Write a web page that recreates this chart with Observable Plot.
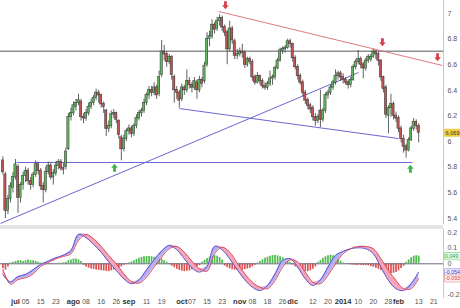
<!DOCTYPE html>
<html><head><meta charset="utf-8">
<script src="https://cdn.jsdelivr.net/npm/d3@7"></script>
<script src="https://cdn.jsdelivr.net/npm/@observablehq/plot@0.6"></script>
<style>
body{margin:0;background:#fff;font-family:"Liberation Sans",Arial,sans-serif}
#wrap{position:relative;width:460px;height:308px;overflow:hidden;background:#fff}
#wrap svg{position:absolute;left:0;overflow:visible}
#sep{position:absolute;left:0;top:225px;width:443px;height:4px;background:#e4e4e4}
</style></head><body><div id="wrap"><div id="sep"></div></div><script>
// ---- daily candles (trading-day index 0 = 24 jun 2013 ... 165 = 13 feb 2014) ----
const opens = [5.85,5.74,5.46,5.55,5.64,5.72,5.80,5.56,5.66,5.73,
5.77,5.69,5.66,5.74,5.82,5.77,5.65,5.62,5.76,5.81,
5.72,5.75,5.81,5.84,5.79,5.80,5.94,6.19,6.22,
6.27,6.30,6.31,6.19,6.18,6.22,6.27,6.30,6.34,6.38,
6.36,6.29,6.24,6.10,6.12,6.21,6.22,6.16,6.03,5.94,
6.02,6.08,6.10,6.06,6.12,6.18,6.22,6.24,6.30,6.36,
6.40,6.38,6.42,6.37,6.52,6.70,6.68,6.62,6.66,6.50,
6.40,6.38,6.33,6.42,6.40,6.47,6.44,6.42,6.46,6.40,
6.48,6.47,6.60,6.80,6.82,6.91,6.88,6.94,6.96,
6.89,6.85,6.72,6.88,6.78,6.67,6.68,6.70,6.69,6.60,
6.64,6.62,6.50,6.46,6.51,6.47,6.43,6.42,6.45,6.49,
6.50,6.57,6.63,6.71,6.72,6.73,6.78,6.76,6.65,6.58,
6.51,6.46,6.38,6.32,6.28,6.26,6.19,6.16,6.24,6.17,
6.24,6.36,6.38,6.42,6.46,6.51,6.53,6.50,6.48,6.46,
6.44,6.48,6.58,6.62,6.64,6.60,6.57,6.63,
6.64,6.66,6.70,6.68,6.63,6.50,6.42,6.20,6.26,6.29,
6.20,6.18,6.10,6.02,5.96,5.93,6.01,6.10,6.15,6.12];
const highs = [5.88,5.76,5.58,5.68,5.76,5.86,5.82,5.68,5.76,5.80,
5.79,5.72,5.76,5.85,5.84,5.79,5.68,5.80,5.84,5.83,
5.78,5.84,5.86,5.86,5.83,5.95,6.22,6.26,6.31,
6.33,6.37,6.33,6.22,6.25,6.30,6.33,6.36,6.41,6.40,
6.37,6.31,6.25,6.16,6.24,6.25,6.23,6.17,6.05,6.05,
6.10,6.13,6.12,6.14,6.21,6.24,6.26,6.33,6.38,6.43,
6.43,6.46,6.44,6.55,6.79,6.75,6.70,6.68,6.67,6.52,
6.43,6.40,6.45,6.44,6.56,6.50,6.46,6.50,6.48,6.51,
6.50,6.62,6.85,6.86,6.95,6.93,6.97,6.99,6.98,
6.91,6.87,6.94,6.90,6.80,6.72,6.73,6.76,6.71,6.66,
6.66,6.64,6.52,6.54,6.52,6.49,6.46,6.47,6.55,6.52,
6.59,6.65,6.73,6.74,6.75,6.80,6.80,6.77,6.67,6.60,
6.53,6.48,6.40,6.34,6.30,6.28,6.22,6.21,6.40,6.26,
6.38,6.40,6.44,6.48,6.56,6.55,6.55,6.53,6.50,6.48,
6.50,6.60,6.64,6.71,6.66,6.62,6.65,6.68,
6.68,6.72,6.71,6.70,6.64,6.51,6.44,6.28,6.37,6.31,
6.23,6.20,6.12,6.05,5.98,6.03,6.12,6.18,6.17,6.14];
const lows = [5.74,5.40,5.43,5.52,5.60,5.70,5.44,5.52,5.62,5.68,
5.66,5.62,5.64,5.72,5.74,5.62,5.52,5.60,5.74,5.70,
5.66,5.73,5.78,5.77,5.74,5.78,5.93,6.16,6.20,
6.24,6.28,6.16,6.14,6.16,6.20,6.25,6.28,6.32,6.30,
6.26,6.22,6.04,6.07,6.10,6.18,6.14,6.02,5.85,5.92,
6.00,6.05,6.03,6.04,6.10,6.16,6.19,6.22,6.28,6.33,
6.35,6.36,6.33,6.35,6.50,6.63,6.58,6.60,6.48,6.30,
6.33,6.26,6.31,6.36,6.38,6.41,6.38,6.40,6.33,6.38,
6.42,6.45,6.58,6.74,6.80,6.84,6.86,6.90,6.86,
6.82,6.60,6.70,6.76,6.64,6.64,6.66,6.65,6.57,6.58,
6.60,6.47,6.44,6.45,6.44,6.41,6.40,6.40,6.43,6.44,
6.48,6.56,6.62,6.68,6.69,6.72,6.73,6.62,6.56,6.48,
6.44,6.35,6.29,6.25,6.22,6.16,6.12,6.14,6.11,6.15,
6.22,6.33,6.36,6.40,6.44,6.48,6.47,6.45,6.44,6.41,
6.42,6.47,6.56,6.60,6.57,6.49,6.55,6.61,
6.62,6.65,6.64,6.59,6.47,6.38,6.18,6.06,6.19,6.17,
6.15,6.07,5.99,5.91,5.87,5.92,6.00,6.08,6.09,5.99];
const closes = [5.76,5.46,5.55,5.65,5.72,5.82,5.56,5.66,5.73,5.77,
5.69,5.66,5.74,5.82,5.77,5.65,5.62,5.76,5.81,5.72,
5.75,5.81,5.84,5.79,5.78,5.92,6.19,6.22,6.28,
6.30,6.32,6.19,6.18,6.22,6.27,6.30,6.34,6.38,6.36,
6.29,6.27,6.10,6.12,6.21,6.22,6.17,6.05,5.94,6.02,
6.08,6.10,6.06,6.12,6.18,6.22,6.24,6.30,6.36,6.40,
6.38,6.42,6.36,6.50,6.70,6.68,6.62,6.66,6.52,6.40,
6.38,6.32,6.42,6.40,6.47,6.44,6.42,6.47,6.40,6.48,
6.45,6.59,6.80,6.82,6.91,6.87,6.94,6.96,6.89,
6.85,6.72,6.88,6.79,6.67,6.68,6.70,6.69,6.60,6.64,
6.62,6.50,6.46,6.51,6.47,6.43,6.42,6.45,6.49,6.50,
6.57,6.63,6.71,6.72,6.73,6.78,6.76,6.65,6.58,6.51,
6.46,6.38,6.32,6.28,6.25,6.19,6.16,6.19,6.17,6.24,
6.36,6.38,6.42,6.46,6.51,6.53,6.50,6.48,6.46,6.44,
6.48,6.58,6.62,6.64,6.60,6.57,6.63,6.66,
6.66,6.70,6.68,6.63,6.50,6.41,6.21,6.26,6.29,6.20,
6.18,6.10,6.02,5.96,5.93,6.01,6.10,6.15,6.12,6.069];

// ---- oscillator panel ----
const histogram = [-0.03,-0.04,-0.02,
0.005,0.01,0.015,0.02,0.02,0.015,0.02,0.025,0.02,0.02,0.015,
0.01,0.005,0.003,
0.004,0.003,0.002,-0.002,0.002,0.003,0.004,0.006,0.01,
0.02,0.025,0.03,0.03,0.025,0.015,
-0.01,-0.02,-0.028,-0.033,-0.036,-0.04,-0.042,-0.044,-0.046,-0.048,-0.05,-0.045,-0.04,-0.035,-0.03,-0.02,-0.01,
-0.003,
0.005,0.012,0.02,0.028,0.035,0.04,0.045,0.047,0.047,0.045,0.042,0.04,0.036,0.03,0.02,0.01,
-0.005,-0.015,-0.025,-0.035,-0.042,-0.047,-0.05,-0.048,-0.045,-0.038,-0.03,-0.02,-0.01,
0.01,0.022,0.033,0.042,0.05,0.052,0.048,0.04,0.025,
-0.015,-0.025,-0.032,-0.038,-0.04,-0.042,-0.042,-0.04,-0.037,-0.033,-0.028,-0.02,-0.01,
0.005,0.015,0.025,0.035,0.042,0.048,0.052,0.053,0.05,0.045,0.038,0.028,0.018,0.008,
-0.008,-0.02,-0.03,-0.038,-0.045,-0.05,-0.05,-0.045,-0.035,-0.02,
0.01,0.022,0.035,0.045,0.052,0.055,0.052,0.045,0.032,0.018,
0.005,-0.002,-0.005,-0.007,-0.008,-0.01,-0.01,-0.01,-0.012,-0.012,-0.013,-0.018,-0.022,
-0.028,-0.035,-0.042,-0.05,-0.056,-0.06,-0.062,-0.06,-0.055,-0.045,-0.03,-0.015,
0.01,0.025,0.038,0.048,0.052,0.049];
// oscillator lines, read every 3rd trading day (index 0, 3, 6 ... 165)
const fastLine = [-0.07,-0.115,-0.081,-0.068,-0.038,-0.004,0.017,0.038,0.055,0.085,
0.187,0.166,0.123,0.074,0.011,-0.042,-0.096,-0.127,-0.102,-0.038,
0.025,0.081,0.117,0.089,0.032,-0.025,-0.053,-0.017,0.110,0.089,
0.032,-0.038,-0.102,-0.149,-0.170,-0.138,-0.064,0.021,0.032,-0.021,
-0.096,-0.138,-0.102,-0.021,0.053,0.079,0.096,0.102,0.096,0.064,
-0.021,-0.106,-0.159,-0.170,-0.127,-0.054];
const slowLine = [-0.035,-0.13,-0.10,-0.089,-0.064,-0.017,0.008,0.032,0.047,0.064,
0.149,0.187,0.159,0.110,0.053,0.0,-0.064,-0.113,-0.123,-0.085,
-0.021,0.042,0.096,0.110,0.074,0.017,-0.032,-0.047,0.064,0.106,
0.074,0.004,-0.064,-0.117,-0.149,-0.159,-0.106,-0.021,0.025,0.011,
-0.053,-0.117,-0.127,-0.074,0.0,0.064,0.096,0.110,0.110,0.096,
0.032,-0.042,-0.106,-0.159,-0.159,-0.093];
const oscValueLabels = ["0,049","-0,054","-0,093"];
const oscValues = [0.049,-0.054,-0.093];

// ---- axes ----
const priceTicks = [5.4,5.6,5.8,6,6.2,6.4,6.6,6.8,7];
const oscTicks = [-0.2,0,0.1,0.2];
const tickIdx =    [5,9,15,21,28,33,39,45,50,57,63,71,75,81,87,94,99,105,111,115,123,129,135,141,147,153,157,165,171];
const tickLabels = ["jul","05","15","23","ago","08","16","26","sep","11","19","oct","07","15","23","nov","08","18","26","dic","12","20","2014","10","20","28","feb","13","21"];
const tickIsMajor = [1,0,0,0,1,0,0,0,1,0,0,1,0,0,0,1,0,0,0,1,0,0,1,0,0,0,1,0,0];

// ---- drawn analysis lines and signals ----
const resistanceLevel = 6.706;
const trendFrom = [[85.6,7.016],[-0.95,5.361],[70.1,6.258],[5.4,5.837]];
const trendTo   = [[174.4,6.594],[141.1,6.539],[156.9,6.024],[162.5,5.837]];
const trendKind = ["bear","bull","bull","bull"];
const sellIdx = [88.3,150.6,172.5], sellPrice = [7.062,6.774,6.657];
const buyIdx = [44.3,161.7], buyPrice = [5.798,5.79];

// ---------------------------------------------------------------
const GREEN = "#5cb85c", RED = "#c05454";
const candles = closes.map((c,j)=>({j, o:opens[j], h:highs[j], l:lows[j], c}));
const hist = histogram.map((v,j)=>({j, v}));
const osc = fastLine.map((b,m)=>({j:3*m, b, r:slowLine[m]}));
const trends = trendKind.map((k,i)=>({k, x1:trendFrom[i][0], y1:trendFrom[i][1], x2:trendTo[i][0], y2:trendTo[i][1]}));
const ticks = tickLabels.map((t,i)=>({j:tickIdx[i], t, major:!!tickIsMajor[i]}));
const lastClose = closes[closes.length-1];

const xDomain = [-0.952, 174.84];
const font = '"Liberation Sans", Arial, sans-serif';

const downArrow = {draw(ctx){ctx.moveTo(-1.4,-4.2);ctx.lineTo(1.4,-4.2);ctx.lineTo(1.4,-0.3);ctx.lineTo(3.3,-0.3);ctx.lineTo(0,3.8);ctx.lineTo(-3.3,-0.3);ctx.lineTo(-1.4,-0.3);ctx.closePath();}};
const upArrow = {draw(ctx){ctx.moveTo(-1.4,4.2);ctx.lineTo(1.4,4.2);ctx.lineTo(1.4,0.3);ctx.lineTo(3.3,0.3);ctx.lineTo(0,-3.8);ctx.lineTo(-3.3,0.3);ctx.lineTo(-1.4,0.3);ctx.closePath();}};
const tagBox = {draw(ctx){ctx.rect(0,-3.6,20,7.2);}};

const main = Plot.plot({
  width:460, height:224, marginLeft:0, marginRight:17, marginTop:0, marginBottom:0,
  style:{background:"transparent", fontFamily:font, fontSize:"7px", color:"#555"},
  x:{domain:xDomain, axis:null},
  y:{domain:[5.3528,7.1015], axis:"right", ticks:priceTicks, tickSize:0, tickPadding:4,
     tickFormat:d=>String(+d.toFixed(1)), label:null},
  marks:[
    Plot.ruleX([xDomain[1]], {stroke:"#c8c8c8"}),
    Plot.ruleY([resistanceLevel], {stroke:"#555", strokeWidth:1}),
    Plot.link(trends, {x1:"x1", y1:"y1", x2:"x2", y2:"y2", stroke:d=>d.k==="bear"?"#e07a80":"#6a66d0", strokeWidth:1}),
    Plot.ruleX(candles, {x:"j", y1:"l", y2:"h", stroke:"#3a3a3a", strokeWidth:0.8}),
    Plot.rect(candles, {x1:d=>d.j-0.44, x2:d=>d.j+0.44, y1:d=>Math.min(d.o,d.c), y2:d=>Math.max(d.o,d.c)+0.003,
      fill:d=>d.c>=d.o?GREEN:RED, stroke:"#333", strokeWidth:0.5}),
    Plot.dot(sellIdx.map((x,i)=>({x,y:sellPrice[i]})), {x:"x", y:"y", symbol:downArrow, fill:"#d8404a", stroke:"none", r:4}),
    Plot.dot(buyIdx.map((x,i)=>({x,y:buyPrice[i]})), {x:"x", y:"y", symbol:upArrow, fill:"#3cb34a", stroke:"none", r:4}),
    Plot.dot([lastClose], {y:d=>d, frameAnchor:"right", dx:1, symbol:tagBox, fill:"#f3d23a", stroke:"#d8b420", strokeWidth:0.5, r:4}),
    Plot.text([lastClose], {y:d=>d, frameAnchor:"right", dx:2, textAnchor:"start", text:d=>d.toFixed(3).replace(".",","), fill:"#333", fontSize:5.6})
  ]
});
main.style.top = "0px";

const lower = Plot.plot({
  width:460, height:79, marginLeft:0, marginRight:17, marginTop:0, marginBottom:10,
  style:{background:"transparent", fontFamily:font, fontSize:"7px", color:"#555"},
  x:{domain:xDomain, axis:null},
  y:{domain:[-0.221,0.2185], axis:"right", ticks:oscTicks, tickSize:0, tickPadding:4,
     tickFormat:d=>String(+d.toFixed(1)), label:null},
  marks:[
    Plot.ruleX([xDomain[1]], {stroke:"#c8c8c8"}),
    Plot.ruleX(hist, {x:"j", y1:0, y2:"v", stroke:d=>d.v>=0?"#4cbb4c":"#e0504f", strokeWidth:1.7}),
    Plot.ruleY([0], {stroke:"#6a6a80", strokeWidth:1}),
    Plot.areaY(osc, {x:"j", y1:"r", y2:d=>Math.max(d.b,d.r), fill:"#b7b0f0", curve:"catmull-rom"}),
    Plot.areaY(osc, {x:"j", y1:"b", y2:d=>Math.max(d.b,d.r), fill:"#f4a6b6", curve:"catmull-rom"}),
    Plot.line(osc, {x:"j", y:"b", stroke:"#5a52d8", strokeWidth:1, curve:"catmull-rom"}),
    Plot.line(osc, {x:"j", y:"r", stroke:"#d9465e", strokeWidth:1, curve:"catmull-rom"}),
    Plot.dot(oscValues.map((v,i)=>({v,i})), {y:"v", frameAnchor:"right", dx:1, symbol:tagBox,
      fill:d=>["#e3f6e3","#eef0ff","#fff0f0"][d.i], stroke:d=>["#7ccf7c","#8a86e0","#e08a8a"][d.i], strokeWidth:0.6, r:4}),
    Plot.text(oscValues.map((v,i)=>({v,i})), {y:"v", frameAnchor:"right", dx:1.5, textAnchor:"start",
      text:d=>oscValueLabels[d.i], fill:d=>["#3aa53a","#3c36c8","#d03a3a"][d.i], fontSize:5.3}),
    Plot.text(ticks.filter(d=>d.major), {x:"j", text:"t", frameAnchor:"bottom", dy:5, fontWeight:"bold", fill:"#333", fontSize:7.5}),
    Plot.text(ticks.filter(d=>!d.major), {x:"j", text:"t", frameAnchor:"bottom", dy:5, fill:"#555", fontSize:7})
  ]
});
lower.style.top = "229px";

const wrap = document.getElementById("wrap");
wrap.appendChild(main);
wrap.appendChild(lower);
</script></body></html>
